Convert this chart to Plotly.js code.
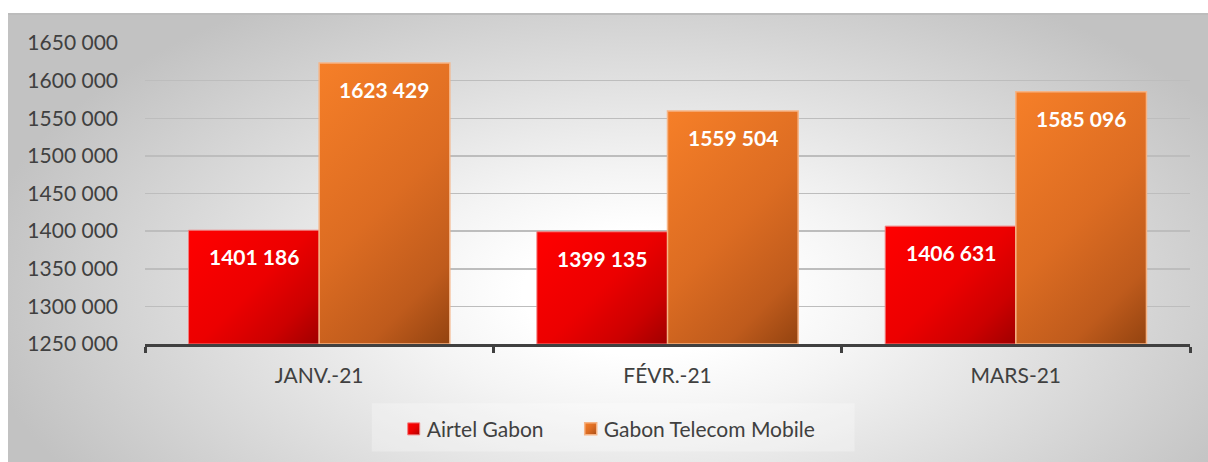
<!DOCTYPE html>
<html>
<head>
<meta charset="utf-8">
<script src="https://cdn.plot.ly/plotly-3.0.1.min.js"></script>
<style>
  html, body { margin: 0; padding: 0; width: 1208px; height: 462px; overflow: hidden; background: #ffffff; }
  #bg { position: absolute; left: 8px; top: 13px; width: 1200px; height: 449px;
        border-top: 2px solid #bcbcbc; box-sizing: border-box;
        background: radial-gradient(ellipse 56% 78% at 53% 62%, #ffffff 18%, #f4f4f4 35%, #c2c2c2 100%); }
  #chart { position: absolute; left: 0; top: 0; width: 1208px; height: 462px; }
</style>
</head>
<body>
<div id="bg"></div>
<div id="chart"></div>
<script>
const categories = ['JANV.-21', 'FÉVR.-21', 'MARS-21'];
const airtelGabon = [1401186, 1399135, 1406631];
const gabonTelecomMobile = [1623429, 1559504, 1585096];
const seriesNames = ['Airtel Gabon', 'Gabon Telecom Mobile'];
const yTickVals = [1250000, 1300000, 1350000, 1400000, 1450000, 1500000, 1550000, 1600000, 1650000];

function fmt(v) {
  const head = Math.floor(v / 1000);
  const tail = String(v % 1000).padStart(3, '0');
  return head + ' ' + tail;
}
const yTickText = yTickVals.map(fmt);
const axisMin = yTickVals[0];
const axisMax = yTickVals[yTickVals.length - 1];

const FONT = 'Lato, "Open Sans", sans-serif';
const TXT = '#404040';

const traces = [
  { type: 'bar', name: seriesNames[0], x: categories, y: airtelGabon.map(v => v - axisMin), base: axisMin,
    marker: { color: '#e00000', line: { color: '#f28080', width: 1 } }, hoverinfo: 'skip' },
  { type: 'bar', name: seriesNames[1], x: categories, y: gabonTelecomMobile.map(v => v - axisMin), base: axisMin,
    marker: { color: '#d26420', line: { color: '#f6b485', width: 1.5 } }, hoverinfo: 'skip' }
];

const BARSHIFT = 65.3;
const annotations = [];
categories.forEach((c, i) => {
  annotations.push({ x: c, y: airtelGabon[i], xref: 'x', yref: 'y', text: fmt(airtelGabon[i]),
    showarrow: false, xshift: -BARSHIFT, yanchor: 'top', yshift: -12,
    font: { family: FONT, size: 21, color: '#ffffff', weight: 'bold' } });
  annotations.push({ x: c, y: gabonTelecomMobile[i], xref: 'x', yref: 'y', text: fmt(gabonTelecomMobile[i]),
    showarrow: false, xshift: BARSHIFT, yanchor: 'top', yshift: -12,
    font: { family: FONT, size: 21, color: '#ffffff', weight: 'bold' } });
});

const layout = {
  width: 1208, height: 462,
  margin: { l: 145, r: 18, t: 43, b: 114 },
  paper_bgcolor: 'rgba(0,0,0,0)',
  plot_bgcolor: 'rgba(0,0,0,0)',
  barmode: 'group', bargap: 0.25, bargroupgap: 0,
  font: { family: FONT, color: TXT },
  xaxis: {
    type: 'category', showline: true, linecolor: '#404040', linewidth: 3,
    ticks: 'outside', tickson: 'boundaries', ticklen: 6, tickwidth: 3, tickcolor: '#404040',
    tickfont: { family: FONT, size: 21, color: TXT }, ticklabelstandoff: 11,
    showgrid: false, zeroline: false, fixedrange: true
  },
  yaxis: {
    range: [axisMin, axisMax], tickvals: yTickVals, ticktext: yTickText,
    tickfont: { family: FONT, size: 21, color: TXT }, ticks: '', ticklabelstandoff: 26,
    showgrid: true, gridcolor: '#bdbdbd', gridwidth: 1.5, zeroline: false, showline: false, fixedrange: true
  },
  showlegend: true,
  legend: {
    orientation: 'h', x: 0.238, xanchor: 'left', y: -0.215, yanchor: 'top',
    bgcolor: 'rgba(0,0,0,0)', font: { family: FONT, size: 21, color: TXT },
    traceorder: 'normal'
  },
  shapes: [
    { type: 'rect', xref: 'paper', yref: 'paper', x0: 0.217, x1: 0.679, y0: -0.197, y1: -0.357,
      fillcolor: 'rgba(255,255,255,0.28)', line: { width: 0 }, layer: 'below' }
  ],
  annotations: annotations
};

Plotly.newPlot('chart', traces, layout, { staticPlot: true, displayModeBar: false }).then(gd => {
  const svg = gd.querySelector('.main-svg');
  const NS = 'http://www.w3.org/2000/svg';
  let defs = svg.querySelector('defs');
  if (!defs) { defs = document.createElementNS(NS, 'defs'); svg.insertBefore(defs, svg.firstChild); }
  const palettes = [
    [['0', '#ff0000'], ['0.5', '#ec0000'], ['0.78', '#cc0000'], ['1', '#a00000']],
    [['0', '#f67f28'], ['0.5', '#dc6c22'], ['0.8', '#bf5b1c'], ['1', '#934310']]
  ];
  function makeGrad(id, stops, attrs) {
    const g = document.createElementNS(NS, 'linearGradient');
    g.setAttribute('id', id);
    Object.keys(attrs).forEach(k => g.setAttribute(k, String(attrs[k])));
    stops.forEach(([o, c]) => {
      const s = document.createElementNS(NS, 'stop');
      s.setAttribute('offset', o); s.setAttribute('stop-color', c);
      g.appendChild(s);
    });
    defs.appendChild(g);
  }
  let n = 0;
  gd.querySelectorAll('.barlayer .trace').forEach((t, i) => {
    t.querySelectorAll('path').forEach(p => {
      let w = 130, h = 150;
      const nums = (p.getAttribute('d') || '').match(/-?\d+(\.\d+)?/g);
      if (nums && nums.length >= 4) {
        const v = nums.map(Number);
        w = Math.abs(v[3] - v[0]); h = Math.abs(v[2] - v[1]);
      }
      if (!(w > 0 && h > 0)) { w = 130; h = 150; }
      const a = (w + h) / (w * w + h * h);
      const id = 'barGrad' + (n++);
      makeGrad(id, palettes[i], { x1: '0', y1: '0', x2: (w * a).toFixed(4), y2: (h * a).toFixed(4) });
      p.style.fill = 'url(#' + id + ')';
    });
  });
  const sb = gd.querySelector('.legend .scrollbox');
  if (sb) sb.removeAttribute('clip-path');
  let firstX = null;
  gd.querySelectorAll('.legend .traces').forEach((t, i) => {
    const id = 'legGrad' + i;
    makeGrad(id, palettes[i], { x1: '0', y1: '0', x2: '1', y2: '1' });
    t.querySelectorAll('.legendpoints path').forEach(p => { p.style.fill = 'url(#' + id + ')'; });
    const txt = t.querySelector('.legendtext');
    if (txt) txt.setAttribute('x', 33);
    const tr = t.getAttribute('transform') || '';
    const m = tr.match(/translate\(([-\d.]+)[ ,]+([-\d.]+)\)/);
    if (m) {
      const x = parseFloat(m[1]), y = parseFloat(m[2]);
      if (i === 0) firstX = x;
      else if (firstX !== null) t.setAttribute('transform', 'translate(' + (firstX + 177 * i) + ',' + y + ')');
    }
  });
});
</script>
</body>
</html>
